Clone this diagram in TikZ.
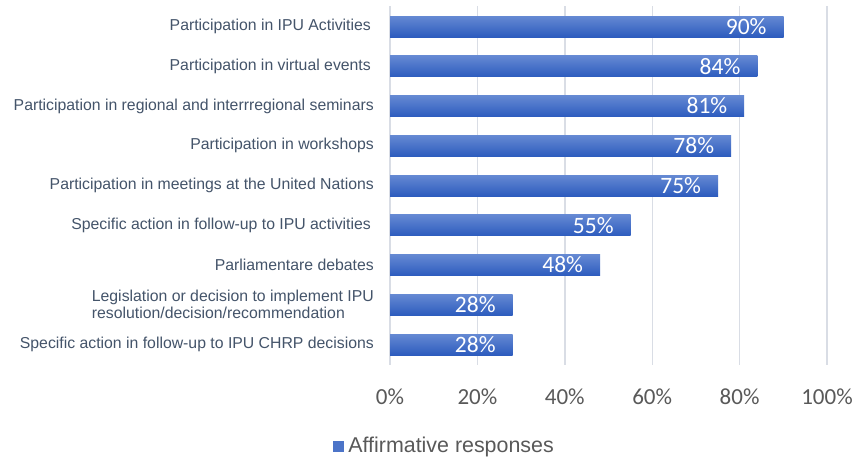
\documentclass[tikz,border=0pt]{standalone}
\usepackage{fontspec}
\setmainfont{Liberation Sans}
\newfontfamily\calib{Carlito}
\usetikzlibrary{positioning}
\definecolor{barTop}{HTML}{6589D3}
\definecolor{barBot}{HTML}{2D5CBE}
\definecolor{labGray}{HTML}{44546A}
\definecolor{tickGray}{HTML}{595959}
\definecolor{gridGray}{HTML}{D9DDE5}
\tikzset{
    bar/.style = {top color = barTop, bottom color = barBot, draw = none, inner sep = 0, minimum height = 21pt, anchor = west},
    val/.style = {text = white, font = \calib\fontsize{23.5}{23.5}\selectfont, inner sep = 0, anchor = east},
    cat/.style = {text = labGray, font = \fontsize{15.8}{17}\selectfont, align = right, inner sep = 0, anchor = east},
    tick/.style = {text = tickGray, font = \calib\fontsize{23}{23}\selectfont, inner sep = 0},
    grid line/.style = {gridGray, line width = 1.4pt}
}
\begin{document}
\begin{tikzpicture}[x = 1pt, y = -1pt]
    \useasboundingbox[fill = white] (0, 0) rectangle (857, 458);
        % grid
        \draw[grid line] (390, 6) -- (390, 365);
        \draw[grid line] (477.4, 6) -- (477.4, 365);
        \draw[grid line] (564.8, 6) -- (564.8, 365);
        \draw[grid line] (652.2, 6) -- (652.2, 365);
        \draw[grid line] (739.6, 6) -- (739.6, 365);
        \draw[grid line] (827, 6) -- (827, 365);
        \node[tick] (t0) at (390, 397) {0\%};
        \node[tick] (t20) at (477.4, 397) {20\%};
        \node[tick] (t40) at (564.8, 397) {40\%};
        \node[tick] (t60) at (652.2, 397) {60\%};
        \node[tick] (t80) at (739.6, 397) {80\%};
        \node[tick] (t100) at (827, 397) {100\%};
        % bars
        \node[bar, minimum width = 393.3pt] (b1) at (390, 26.5) {};
            \node[val] (v1) at ([xshift = -17pt]b1.east) {90\%};
            \node[cat] (c1) at ([xshift = -19pt]b1.west) {Participation in IPU Activities};
        \node[bar, minimum width = 367.1pt] (b2) at (390, 66.25) {};
            \node[val] (v2) at ([xshift = -17pt]b2.east) {84\%};
            \node[cat] (c2) at ([xshift = -19pt]b2.west) {Participation in virtual events};
        \node[bar, minimum width = 354pt] (b3) at (390, 106) {};
            \node[val] (v3) at ([xshift = -17pt]b3.east) {81\%};
            \node[cat] (c3) at ([xshift = -16pt]b3.west) {Participation in regional and interrregional seminars};
        \node[bar, minimum width = 340.9pt] (b4) at (390, 145.75) {};
            \node[val] (v4) at ([xshift = -17pt]b4.east) {78\%};
            \node[cat] (c4) at ([xshift = -16pt]b4.west) {Participation in workshops};
        \node[bar, minimum width = 327.8pt] (b5) at (390, 185.5) {};
            \node[val] (v5) at ([xshift = -17pt]b5.east) {75\%};
            \node[cat] (c5) at ([xshift = -16pt]b5.west) {Participation in meetings at the United Nations};
        \node[bar, minimum width = 240.4pt] (b6) at (390, 225.25) {};
            \node[val] (v6) at ([xshift = -17pt]b6.east) {55\%};
            \node[cat] (c6) at ([xshift = -19pt]b6.west) {Specific action in follow-up to IPU activities};
        \node[bar, minimum width = 209.8pt] (b7) at (390, 265) {};
            \node[val] (v7) at ([xshift = -17pt]b7.east) {48\%};
            \node[cat] (c7) at ([xshift = -16pt]b7.west) {Parliamentare debates};
        \node[bar, minimum width = 122.4pt] (b8) at (390, 304.75) {};
            \node[val] (v8) at ([xshift = -17pt]b8.east) {28\%};
            \node[cat, align = left] (c8) at ([xshift = -16pt]b8.west) {Legislation or decision to implement IPU\\resolution/decision/recommendation};
        \node[bar, minimum width = 122.4pt] (b9) at (390, 344.5) {};
            \node[val] (v9) at ([xshift = -17pt]b9.east) {28\%};
            \node[cat] (c9) at ([xshift = -16pt]b9.west) {Specific action in follow-up to IPU CHRP decisions};
        % legend
        \node[fill = barBot!85!white, inner sep = 0, minimum size = 11pt] (key) at (338.5, 446.5) {};
        \node[right = 4pt of key, inner sep = 0, text = tickGray, font = \fontsize{21.4}{23}\selectfont] (keytext) {Affirmative responses};
\end{tikzpicture}
\end{document}
